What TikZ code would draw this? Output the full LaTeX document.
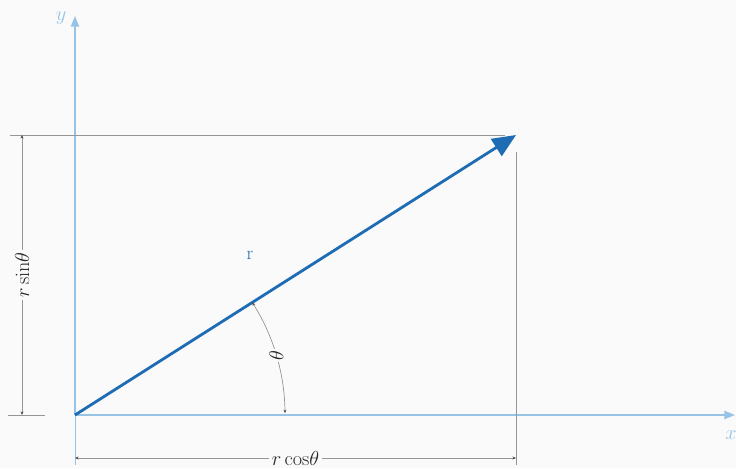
\documentclass[tikz,border=0pt]{standalone}
\usepackage{amsmath,amssymb}
\usepackage{tikz}
\usetikzlibrary{arrows.meta,calc,positioning}
\definecolor{vecblue}{RGB}{30,108,180}
\definecolor{axisblue}{RGB}{150,195,230}
\definecolor{dimgray}{RGB}{150,150,150}
\definecolor{paper}{RGB}{250,250,250}

\begin{document}
\begin{tikzpicture}[x=.03cm,y=.03cm,font=\fontsize{19}{22}\selectfont,
    axis/.style={axisblue,line width=1.1pt,-{Triangle[length=9pt,width=7pt]}},
    guide/.style={dimgray,line width=.6pt},
    dimline/.style={dimgray,line width=.6pt,{Stealth[length=3pt,width=2.5pt,black!70]}-{Stealth[length=3pt,width=2.5pt,black!70]}}]
    \fill[paper] (0,0) rectangle (736,468);
    \useasboundingbox (0,0) rectangle (736,468);
    % points
    \coordinate (O) at (75,53);
    \coordinate (P) at (516,333);
    \coordinate (Xend) at (735,53);
    \coordinate (Yend) at (75,452);
    % axes
    \draw[axis] (O)--(Xend);
    \draw[axis] (O)--(Yend);
    \draw[axisblue,line width=.6pt] (O)--(75,3);
    \node[axisblue] (ylab) at (61,450) {$y$};
    \node[axisblue] (xlab) at (731,33) {$x$};
    % guide lines
    \draw[guide] (10,333)--(505,333);
    \draw[guide] (516,316)--(516,3);
    \draw[guide] (8,53)--(45,53);
    % dimensions
    \coordinate (sinA) at (22,333);
    \coordinate (sinB) at (22,53);
    \draw[dimline] (sinA)--(sinB) node[midway,fill=paper,inner sep=2pt,rotate=90,text=black!85]{$r\sin\!\theta$};
    \coordinate (cosA) at (75,10);
    \coordinate (cosB) at (516,10);
    \draw[dimline] (cosA)--(cosB) node[midway,fill=paper,inner sep=2pt,text=black!85]{$r\cos\!\theta$};
    % vector
    \draw[vecblue,line width=2.4pt,-{Triangle[length=20pt,width=17pt]}] (O)--(P);
    \node[vecblue,font=\fontsize{16}{18}\selectfont] (rlab) at (250,213) {r};
    % angle
    \draw[dimline] ($(O)+(32.4:210)$) arc[start angle=32.4,end angle=0.5,radius=210]
      node[pos=.5,fill=paper,inner sep=1pt,rotate=90,text=black!85]{$\theta$};
\end{tikzpicture}
\end{document}
